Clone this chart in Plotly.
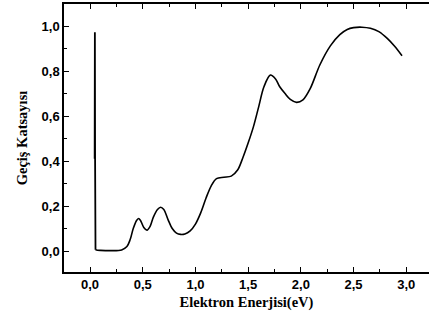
import plotly.graph_objects as go

# spike near the threshold
spike_energy = [0.044, 0.046, 0.048, 0.052]
spike_trans = [0.41, 0.973, 0.41, 0.006]

# smooth part of the curve
energy = [0.052, 0.07, 0.10, 0.20, 0.30, 0.35, 0.38, 0.41, 0.44, 0.46, 0.48,
          0.51, 0.54, 0.57, 0.60, 0.64, 0.67, 0.70, 0.74, 0.78, 0.82, 0.86, 0.90, 0.95, 1.00,
          1.05, 1.10, 1.15, 1.20, 1.27, 1.34, 1.40, 1.45, 1.50, 1.55, 1.60, 1.65, 1.71,
          1.76, 1.80, 1.85, 1.90, 1.96, 2.02, 2.09, 2.18, 2.28, 2.37, 2.44, 2.50, 2.58, 2.66,
          2.74, 2.82, 2.89, 2.96]
transmission = [0.006, 0.004, 0.003, 0.002, 0.005, 0.02, 0.05, 0.10, 0.135, 0.145, 0.135,
                0.105, 0.093, 0.11, 0.15, 0.185, 0.195, 0.185, 0.14, 0.10, 0.08, 0.074, 0.076, 0.09, 0.12,
                0.17, 0.235, 0.29, 0.322, 0.328, 0.333, 0.36, 0.415, 0.48, 0.552, 0.641, 0.73, 0.782,
                0.765, 0.73, 0.70, 0.674, 0.661, 0.672, 0.723, 0.827, 0.912, 0.962, 0.985, 0.993, 0.995, 0.99,
                0.975, 0.945, 0.91, 0.868]

x_ticks = [0.0, 0.5, 1.0, 1.5, 2.0, 2.5, 3.0]
y_ticks = [0.0, 0.2, 0.4, 0.6, 0.8, 1.0]

fig = go.Figure()
fig.add_trace(go.Scatter(x=spike_energy, y=spike_trans, mode="lines",
                         line=dict(color="black", width=1.8), showlegend=False))
fig.add_trace(go.Scatter(x=energy, y=transmission, mode="lines",
                         line=dict(color="black", width=1.6, shape="spline", smoothing=0.9),
                         showlegend=False))

tickfont = dict(family="Liberation Sans, Arial", size=13, color="black", weight="bold")
titlefont = dict(family="Liberation Serif, Times New Roman", size=14.5, color="black", weight="bold")

fig.update_layout(
    width=429, height=325,
    margin=dict(l=64, r=0, t=4, b=53),
    paper_bgcolor="white", plot_bgcolor="white",
    separators=",.",
    xaxis=dict(
        range=[-0.247, 3.216], tickvals=x_ticks, tickformat=".1f",
        ticks="inside", ticklen=5, tickwidth=1.2, tickcolor="black",
        minor=dict(dtick=0.25, tick0=0, ticks="inside", ticklen=3, tickwidth=1, tickcolor="black"),
        showline=True, linecolor="black", linewidth=1.5, mirror="allticks",
        showgrid=False, zeroline=False, tickfont=tickfont,
        title=dict(text="Elektron Enerjisi(eV)", font=titlefont, standoff=6),
    ),
    yaxis=dict(
        range=[-0.093, 1.098], tickvals=y_ticks, tickformat=".1f",
        ticks="inside", ticklen=5, tickwidth=1.2, tickcolor="black",
        minor=dict(dtick=0.1, tick0=0, ticks="inside", ticklen=3, tickwidth=1, tickcolor="black"),
        showline=True, linecolor="black", linewidth=1.5,
        showgrid=False, zeroline=False, tickfont=tickfont,
        title=dict(text="Geçiş Katsayısı", font=titlefont, standoff=10),
    ),
)

fig.write_html("out.html")
